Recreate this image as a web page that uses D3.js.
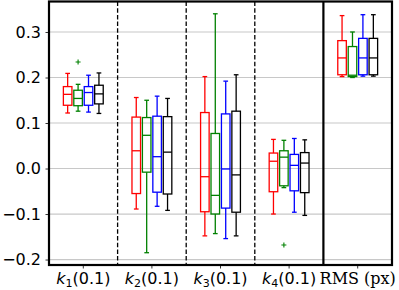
<!DOCTYPE html>
<html><head><meta charset="utf-8">
<script src="https://cdn.jsdelivr.net/npm/d3@7"></script>
<style>body{margin:0;background:#fff}svg{display:block}</style>
</head><body>
<svg id="c" width="399" height="290"></svg>
<script>
const categories = ["k1","k2","k3","k4","RMS"];
const seriesNames = ["s1","s2","s3","s4"];
const seriesColors = ["#ff0000","#008000","#0000ff","#000000"];
const yTicks = [-0.2,-0.1,0.0,0.1,0.2,0.3];
// each entry: [whisker low, Q1, median, Q3, whisker high]
const redStats = [[0.122,0.139,0.163,0.180,0.209],[-0.089,-0.055,0.039,0.113,0.156],[-0.148,-0.095,-0.018,0.123,0.202],[-0.100,-0.051,0.016,0.034,0.064],[0.202,0.206,0.243,0.281,0.336]];
const greenStats = [[0.126,0.138,0.154,0.172,0.185],[-0.185,-0.008,0.073,0.112,0.150],[-0.143,-0.100,-0.059,0.077,0.340],[-0.042,-0.038,0.025,0.039,0.062],[0.200,0.202,0.205,0.268,0.300]];
const blueStats = [[0.124,0.139,0.167,0.180,0.205],[-0.083,-0.052,0.026,0.115,0.159],[-0.154,-0.087,-0.001,0.120,0.192],[-0.096,-0.049,0.007,0.031,0.066],[0.203,0.206,0.243,0.286,0.338]];
const blackStats = [[0.121,0.142,0.164,0.183,0.210],[-0.092,-0.056,0.036,0.114,0.154],[-0.148,-0.096,-0.014,0.126,0.206],[-0.103,-0.053,0.012,0.035,0.063],[0.203,0.206,0.243,0.286,0.338]];
// outliers: [series index, category index, value]
const outliers = [[1,0,0.234],[1,3,-0.168]];

const allStats = [redStats, greenStats, blueStats, blackStats];
const svg = d3.select("#c");
const L=49, R=392, T=1.5, B=265;
const y = d3.scaleLinear().domain([-0.212,0.367]).range([B,T]);
const x = d3.scaleBand().domain(categories).range([L,R]).padding(0);
const xs = d3.scaleBand().domain(seriesNames).range([-21.8,21.8]).padding(0.18);

// grid
svg.append("g").selectAll("line").data(yTicks).join("line")
  .attr("x1",L).attr("x2",R).attr("y1",d=>y(d)).attr("y2",d=>y(d))
  .attr("stroke","#c8c8c8").attr("stroke-width",1.2);

// separators
categories.slice(1).forEach((c,i)=>{
  const xx = x(c);
  const solid = c==="RMS";
  svg.append("line").attr("x1",xx).attr("x2",xx).attr("y1",T).attr("y2",B)
    .attr("stroke","#000").attr("stroke-width",solid?2.2:1.3)
    .attr("stroke-dasharray",solid?null:"4.5,2.2");
});

// boxes
const bw = xs.bandwidth(), cw = bw*0.55;
allStats.forEach((stats,si)=>{
  const col = seriesColors[si];
  const g = svg.append("g").attr("stroke",col).attr("fill","none").attr("stroke-width",1.3);
  stats.forEach((s,ci)=>{
    const cx = x(categories[ci]) + x.bandwidth()/2 + xs(seriesNames[si]) + bw/2;
    const [lo,q1,md,q3,hi] = s;
    g.append("line").attr("x1",cx).attr("x2",cx).attr("y1",y(hi)).attr("y2",y(q3));
    g.append("line").attr("x1",cx).attr("x2",cx).attr("y1",y(q1)).attr("y2",y(lo));
    g.append("line").attr("x1",cx-cw/2).attr("x2",cx+cw/2).attr("y1",y(hi)).attr("y2",y(hi));
    g.append("line").attr("x1",cx-cw/2).attr("x2",cx+cw/2).attr("y1",y(lo)).attr("y2",y(lo));
    g.append("rect").attr("x",cx-bw/2).attr("y",y(q3)).attr("width",bw).attr("height",y(q1)-y(q3));
    g.append("line").attr("x1",cx-bw/2).attr("x2",cx+bw/2).attr("y1",y(md)).attr("y2",y(md));
  });
});
outliers.forEach(([si,ci,v])=>{
  const cx = x(categories[ci]) + x.bandwidth()/2 + xs(seriesNames[si]) + bw/2;
  const yy = y(v);
  svg.append("path").attr("d",`M${cx-2.5},${yy}H${cx+2.5}M${cx},${yy-2.5}V${yy+2.5}`)
    .attr("stroke",seriesColors[si]).attr("stroke-width",1.1);
});

// y axis
const yAxis = d3.axisLeft(y).tickValues(yTicks).tickSize(3.5).tickPadding(4.5)
  .tickFormat(d=>d3.format(".1f")(d).replace("-","\u2212"));
const ya = svg.append("g").attr("transform",`translate(${L},0)`).call(yAxis);
ya.select(".domain").remove();
ya.selectAll("text").attr("font-family","DejaVu Sans").attr("font-size",16).attr("fill","#000");
ya.selectAll("line").attr("stroke","#000").attr("stroke-width",0.8);

// x axis ticks
const xa = svg.append("g").attr("transform",`translate(0,${B})`)
  .call(d3.axisBottom(x).tickSize(3.5).tickFormat(""));
xa.select(".domain").remove();
xa.selectAll("line").attr("stroke","#000").attr("stroke-width",0.8);

const labG = svg.append("g").attr("font-family","DejaVu Sans").attr("font-size",16).attr("fill","#000");
categories.forEach((c,i)=>{
  const cx = x(c)+x.bandwidth()/2;
  const t = labG.append("text").attr("x",cx).attr("y",284).attr("text-anchor","middle");
  if(c==="RMS"){
    t.attr("font-family","DejaVu Serif").text("RMS (px)");
  } else {
    t.append("tspan").attr("font-style","italic").text("k");
    t.append("tspan").attr("font-size",11).attr("dy",3).text(c.slice(1));
    t.append("tspan").attr("dy",-3).text("(0.1)");
  }
});

// frame
svg.append("rect").attr("x",L).attr("y",T).attr("width",R-L).attr("height",B-T)
  .attr("fill","none").attr("stroke","#000").attr("stroke-width",2.2);
</script>
</body></html>
